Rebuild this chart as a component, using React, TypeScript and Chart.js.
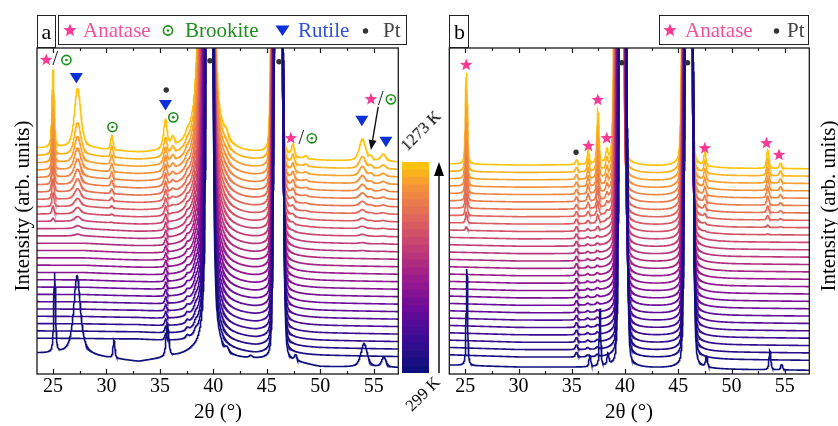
import React, { useEffect, useRef } from "react";
import { Chart, registerables } from "chart.js";

Chart.register(...registerables);

const SERIF = "'Liberation Serif', 'DejaVu Serif', serif";

// ---------------- axis / general data ----------------
const X_MIN = 23.5;
const X_MAX = 57.3;
const X_STEP = 0.025;
const X_TICKS = [25, 30, 35, 40, 45, 50, 55];
const X_MINOR_TICKS = [27.5, 32.5, 37.5, 42.5, 47.5, 52.5];
const X_TITLE = "2θ (°)";
const Y_TITLE = "Intensity (arb. units)";
const TEMP_LOW = "299 K";
const TEMP_HIGH = "1273 K";
const N_CURVES = 28;

// colour map (bottom = 299 K, top = 1273 K)
const CMAP_POS = [0, 0.15, 0.3, 0.45, 0.6, 0.75, 0.9, 1];
const CMAP_COL = ["#0f0f7d", "#3b0c94", "#6d0b9a", "#9c1c8a", "#c43f74", "#e2685a", "#f5953a", "#ffc30f"];

// ---------------- panel a ----------------
const A_Y_RANGE = [-4.86, 40.42];
const A_BG_X = [23.5, 28, 33, 38, 41, 44, 48, 50, 57.3];
const A_BG_LOW = [0.1, 0.05, -0.07, -0.6, -1.6, -2.2, -2.2, -2.3, -2.45];
const A_BG_HIGH = [0.45, 0.45, -0.3, -0.4, -0.6, -0.6, -1.2, -1.3, -1.45];
// [position, height, hwhm, lorentz fraction]
const A_COMMON = [[35.55, 0.9, 0.12, 0.5], [37.55, 0.4, 0.15, 0.5], [38.35, 0.5, 0.15, 0.5]];
// Pt: [pos low T, pos high T, height, hwhm low T, hwhm high T, lorentz fraction]
const A_PT = [[39.65, 39.35, 200, 0.22, 0.4, 0.35], [46.1, 45.9, 200, 0.28, 0.28, 0.07]];
const A_RUTILE = [[27.3, 8.3, 0.35, 0.6], [35.5, 3.3, 0.22, 0.6], [41.2, 0.8, 0.25, 0.5], [53.95, 3.1, 0.35, 0.6], [55.9, 1.0, 0.3, 0.6]];
const A_RUTILE_GROWTH = [0, 0, 0, 0, 0, 0, 0, 0, 0, 0, 0, 0, 0, 0, 0, 0.03, 0.05, 0.08, 0.11, 0.14, 0.18, 0.22, 0.26, 0.31, 0.37, 0.44, 0.55, 1.0];
const A_ANA_BRO = [[25.0, 10.8, 0.12, 0.5], [30.5, 2.0, 0.13, 0.5], [36.2, 1.3, 0.2, 0.5], [47.45, 1.6, 0.15, 0.5], [48.65, 0.4, 0.2, 0.5], [54.75, 0.5, 0.2, 0.5]];
const A_ANA_BRO_GROWTH = [0, 0, 0, 0, 0, 0, 0, 0, 0, 0, 0, 0, 0, 0, 0, 0, 0, 0.04, 0.1, 0.17, 0.25, 0.33, 0.42, 0.5, 0.58, 0.67, 0.78, 1.0];
const A_BOTTOM_BG = [-2.0, -2.3, -3.2, -2.2, -2.8, -3.0, -3.4, -3.9, -4.0];
const A_BOTTOM_PEAKS = [[25.15, 11, 0.1, 0.5], [27.25, 11, 0.38, 0.8], [30.7, 2.5, 0.1, 0.5], [35.7, 4.5, 0.15, 0.5], [41.3, 0.5, 0.2, 0.5], [43.5, 0.3, 0.2, 0.5], [47.7, 0.8, 0.12, 0.5], [54.1, 3.3, 0.35, 0.6], [55.95, 1.4, 0.25, 0.6]];
const A_MARKS: [string, number, number][] = [
  ["star", 24.37, 38.75], ["slash", 25.22, 38.75], ["circ", 26.25, 38.75],
  ["tri", 27.18, 36.25], ["circ", 30.56, 29.44], ["dot", 35.59, 34.58],
  ["tri", 35.52, 32.5], ["circ", 36.25, 30.79], ["dot", 39.68, 38.65], ["dot", 46.14, 38.51],
  ["star", 47.24, 27.88], ["slash", 48.22, 27.88], ["circ", 49.21, 27.88],
  ["tri", 53.89, 30.32], ["star", 54.74, 33.29], ["slash", 55.67, 33.29], ["circ", 56.61, 33.29],
  ["tri", 56.14, 27.4],
];
const A_ARROWS = [[55.42, 32.26, 54.74, 26.25]];

// ---------------- panel b ----------------
const B_Y_RANGE = [-2.3, 41.87];
const B_BG_X = [23.5, 30, 35, 40, 46, 50, 57.3];
const B_BG_LOW = [0.3, 0, -0.05, -0.1, -0.2, -0.35, -0.45];
const B_BG_HIGH = [0.15, 0, 0, -0.1, -0.3, -0.45, -0.5];
const B_COMMON = [[35.45, 0.7, 0.12, 0.5], [36.5, 0.25, 0.15, 0.5], [37.4, 0.3, 0.15, 0.5]];
const B_PT = [[39.8, 39.4, 200, 0.24, 0.25, 0.08], [46.0, 45.8, 200, 0.26, 0.26, 0.07]];
const B_ANATASE = [[25.1, 12.4, 0.1, 0.5], [36.55, 1.7, 0.1, 0.5], [37.45, 6.8, 0.11, 0.5], [38.3, 1.5, 0.12, 0.5], [47.5, 1.8, 0.12, 0.5], [53.4, 2.5, 0.13, 0.5], [54.6, 0.8, 0.13, 0.5]];
const B_ANATASE_GROWTH = [0, 0, 0, 0, 0, 0, 0, 0, 0, 0, 0, 0, 0, 0, 0, 0, 0, 0, 0.04, 0.12, 0.24, 0.36, 0.48, 0.6, 0.7, 0.8, 0.9, 1.0];
const B_BOTTOM_BG = [-1.1, -1.36, -1.4, -1.5, -1.6, -1.7, -1.8];
const B_BOTTOM_PEAKS = [[25.15, 13.1, 0.08, 0.5], [36.7, 1.5, 0.1, 0.5], [37.65, 7.8, 0.08, 0.5], [38.4, 1.5, 0.1, 0.5], [47.65, 1.5, 0.1, 0.5], [53.6, 2.6, 0.1, 0.5], [54.7, 0.8, 0.1, 0.5]];
const B_MARKS: [string, number, number][] = [
  ["star", 25.09, 39.57], ["dot", 35.4, 27.74], ["star", 36.56, 28.59], ["star", 37.44, 34.82],
  ["star", 38.28, 29.63], ["dot", 39.69, 39.88], ["dot", 45.87, 39.88], ["star", 47.49, 28.28],
  ["star", 53.28, 28.96], ["star", 54.46, 27.37],
];

// ---------------- styles ----------------
const C_ANATASE = "#fb3a95";
const C_ANATASE_TXT = "#f4509e";
const C_BROOKITE = "#1d8f1d";
const C_RUTILE = "#0c30d8";
const C_RUTILE_TXT = "#2f50e2";
const C_PT = "#333333";

// ---------------- helpers ----------------
const lerp = (a: number, b: number, t: number) => a + (b - a) * t;
function interp(xs: number[], ys: number[], x: number) {
  if (x <= xs[0]) return ys[0];
  for (let i = 0; i < xs.length - 1; i++) {
    if (x <= xs[i + 1]) return lerp(ys[i], ys[i + 1], (x - xs[i]) / (xs[i + 1] - xs[i]));
  }
  return ys[ys.length - 1];
}
function pv(x: number, p: number, h: number, w: number, eta: number) {
  const d = (x - p) / w;
  const d2 = d * d;
  return h * (eta / (1 + d2) + (1 - eta) * Math.exp(-Math.LN2 * d2));
}
function hexRgb(h: string) {
  return [parseInt(h.slice(1, 3), 16), parseInt(h.slice(3, 5), 16), parseInt(h.slice(5, 7), 16)];
}
function cmap(t: number) {
  for (let i = 0; i < CMAP_POS.length - 1; i++) {
    if (t <= CMAP_POS[i + 1]) {
      const f = (t - CMAP_POS[i]) / (CMAP_POS[i + 1] - CMAP_POS[i]);
      const a = hexRgb(CMAP_COL[i]);
      const b = hexRgb(CMAP_COL[i + 1]);
      return `rgb(${Math.round(lerp(a[0], b[0], f))},${Math.round(lerp(a[1], b[1], f))},${Math.round(lerp(a[2], b[2], f))})`;
    }
  }
  return CMAP_COL[CMAP_COL.length - 1];
}

type Panel = {
  bgX: number[]; bgLow: number[]; bgHigh: number[]; common: number[][]; pt: number[][];
  phases: { peaks: number[][]; growth: number[] }[]; bottomBg: number[]; bottomPeaks: number[][];
};

function curveValue(P: Panel, k: number, x: number) {
  let y = 0;
  if (k === 0) {
    y = interp(P.bgX, P.bottomBg, x);
    for (const p of P.bottomPeaks) y += pv(x, p[0], p[1], p[2], p[3]);
    for (const p of P.pt) y += pv(x, p[0], p[2], p[3], p[5]);
    return y;
  }
  const t = (k - 1) / (N_CURVES - 2);
  y = k - 1 + lerp(interp(P.bgX, P.bgLow, x), interp(P.bgX, P.bgHigh, x), t);
  for (const p of P.common) y += pv(x, p[0], p[1], p[2], p[3]);
  for (const ph of P.phases) {
    const g = ph.growth[k];
    if (g > 0) for (const p of ph.peaks) y += g * pv(x, p[0], p[1], p[2], p[3]);
  }
  for (const p of P.pt) y += pv(x, lerp(p[0], p[1], t), p[2], lerp(p[3], p[4], t), p[5]);
  return y;
}

function buildDatasets(P: Panel) {
  const xs: number[] = [];
  for (let i = 0; X_MIN + i * X_STEP <= X_MAX + 1e-9; i++) xs.push(+(X_MIN + i * X_STEP).toFixed(4));
  const sets: any[] = [];
  for (let k = 0; k < N_CURVES; k++) {
    sets.push({
      data: xs.map((x) => ({ x, y: curveValue(P, k, x) })),
      borderColor: cmap(k / (N_CURVES - 1)),
      borderWidth: 1.6,
      pointRadius: 0,
      fill: false,
      tension: 0,
    });
  }
  return sets;
}

const PANEL_A: Panel = {
  bgX: A_BG_X, bgLow: A_BG_LOW, bgHigh: A_BG_HIGH, common: A_COMMON, pt: A_PT,
  phases: [{ peaks: A_RUTILE, growth: A_RUTILE_GROWTH }, { peaks: A_ANA_BRO, growth: A_ANA_BRO_GROWTH }],
  bottomBg: A_BOTTOM_BG, bottomPeaks: A_BOTTOM_PEAKS,
};
const PANEL_B: Panel = {
  bgX: B_BG_X, bgLow: B_BG_LOW, bgHigh: B_BG_HIGH, common: B_COMMON, pt: B_PT,
  phases: [{ peaks: B_ANATASE, growth: B_ANATASE_GROWTH }],
  bottomBg: B_BOTTOM_BG, bottomPeaks: B_BOTTOM_PEAKS,
};

// ---------------- drawing plugin ----------------
function drawStar(ctx: CanvasRenderingContext2D, cx: number, cy: number, R: number, col: string) {
  ctx.beginPath();
  for (let i = 0; i < 10; i++) {
    const r = i % 2 === 0 ? R : R * 0.42;
    const a = -Math.PI / 2 + (i * Math.PI) / 5;
    const px = cx + r * Math.cos(a);
    const py = cy + r * Math.sin(a);
    if (i === 0) ctx.moveTo(px, py); else ctx.lineTo(px, py);
  }
  ctx.closePath();
  ctx.fillStyle = col;
  ctx.fill();
}

const framePlugin = {
  id: "frameTicks",
  afterDatasetsDraw(chart: any, _args: any, opts: any) {
    const { ctx, chartArea: a, scales } = chart;
    const xs = scales.x;
    const ys = scales.y;
    ctx.save();
    const marks: [string, number, number][] = opts.marks || [];
    for (const m of marks) {
      const px = xs.getPixelForValue(m[1]);
      const py = ys.getPixelForValue(m[2]);
      if (m[0] === "star") drawStar(ctx, px, py, 6.6, C_ANATASE);
      else if (m[0] === "tri") {
        ctx.beginPath();
        ctx.moveTo(px - 6.5, py - 5);
        ctx.lineTo(px + 6.5, py - 5);
        ctx.lineTo(px, py + 5.5);
        ctx.closePath();
        ctx.fillStyle = C_RUTILE;
        ctx.fill();
      } else if (m[0] === "circ") {
        ctx.beginPath();
        ctx.arc(px, py, 4.6, 0, Math.PI * 2);
        ctx.strokeStyle = C_BROOKITE;
        ctx.lineWidth = 1.6;
        ctx.stroke();
        ctx.beginPath();
        ctx.arc(px, py, 1.3, 0, Math.PI * 2);
        ctx.fillStyle = C_BROOKITE;
        ctx.fill();
      } else if (m[0] === "dot") {
        ctx.beginPath();
        ctx.arc(px, py, 2.7, 0, Math.PI * 2);
        ctx.fillStyle = C_PT;
        ctx.fill();
      } else if (m[0] === "slash") {
        ctx.fillStyle = "#111";
        ctx.font = `20px ${SERIF}`;
        ctx.textAlign = "center";
        ctx.textBaseline = "middle";
        ctx.fillText("/", px, py);
      }
    }
    const arrows: number[][] = opts.arrows || [];
    for (const ar of arrows) {
      const x1 = xs.getPixelForValue(ar[0]);
      const y1 = ys.getPixelForValue(ar[1]);
      const x2 = xs.getPixelForValue(ar[2]);
      const y2 = ys.getPixelForValue(ar[3]);
      const ang = Math.atan2(y2 - y1, x2 - x1);
      ctx.strokeStyle = "#111";
      ctx.lineWidth = 1.4;
      ctx.beginPath();
      ctx.moveTo(x1, y1);
      ctx.lineTo(x2 - 8 * Math.cos(ang), y2 - 8 * Math.sin(ang));
      ctx.stroke();
      ctx.beginPath();
      ctx.moveTo(x2, y2);
      ctx.lineTo(x2 - 10 * Math.cos(ang) + 4 * Math.sin(ang), y2 - 10 * Math.sin(ang) - 4 * Math.cos(ang));
      ctx.lineTo(x2 - 10 * Math.cos(ang) - 4 * Math.sin(ang), y2 - 10 * Math.sin(ang) + 4 * Math.cos(ang));
      ctx.closePath();
      ctx.fillStyle = "#111";
      ctx.fill();
    }
    ctx.strokeStyle = "#1a1a1a";
    ctx.lineWidth = 1.3;
    ctx.strokeRect(a.left, a.top, a.right - a.left, a.bottom - a.top);
    const all = X_TICKS.map((v) => [v, 5]).concat(X_MINOR_TICKS.map((v) => [v, 3]));
    ctx.beginPath();
    for (const [v, len] of all) {
      if (v < xs.min || v > xs.max) continue;
      const px = Math.round(xs.getPixelForValue(v)) + 0.5;
      ctx.moveTo(px, a.bottom);
      ctx.lineTo(px, a.bottom - len);
      ctx.moveTo(px, a.top);
      ctx.lineTo(px, a.top + len);
    }
    ctx.lineWidth = 1.2;
    ctx.stroke();
    ctx.restore();
  },
};

function panelConfig(P: Panel, yr: number[], padL: number, padR: number, marks: any[], arrows: number[][]) {
  return {
    type: "line" as const,
    data: { datasets: buildDatasets(P) },
    options: {
      animation: false as const,
      responsive: false,
      maintainAspectRatio: false,
      events: [] as any[],
      parsing: false as const,
      layout: { padding: { left: padL, right: padR, top: 48, bottom: 0 } },
      plugins: {
        legend: { display: false },
        tooltip: { enabled: false },
        frameTicks: { marks, arrows },
      },
      scales: {
        x: {
          type: "linear" as const,
          min: X_MIN,
          max: X_MAX,
          afterFit: (s: any) => { s.height = 52; },
          afterBuildTicks: (s: any) => { s.ticks = X_TICKS.map((v) => ({ value: v })); },
          grid: { display: false, drawTicks: false },
          border: { display: false },
          ticks: {
            padding: 1,
            color: "#000",
            maxRotation: 0,
            autoSkip: false,
            font: { family: SERIF, size: 20 },
            callback: (v: any) => String(v),
          },
        },
        y: { display: false, min: yr[0], max: yr[1] },
      },
    },
    plugins: [framePlugin],
  };
}

function colorbarConfig() {
  const datasets = [] as any[];
  for (let k = 0; k < N_CURVES; k++) {
    datasets.push({ data: [1], backgroundColor: cmap(k / (N_CURVES - 1)), borderWidth: 0, barPercentage: 1, categoryPercentage: 1 });
  }
  return {
    type: "bar" as const,
    data: { labels: [""], datasets },
    options: {
      animation: false as const,
      responsive: false,
      maintainAspectRatio: false,
      events: [] as any[],
      layout: { padding: 0 },
      plugins: { legend: { display: false }, tooltip: { enabled: false } },
      scales: {
        x: { stacked: true, display: false },
        y: { stacked: true, display: false, min: 0, max: N_CURVES },
      },
    },
  };
}

// ---------------- HTML bits ----------------
const abs = (s: React.CSSProperties): React.CSSProperties => ({ position: "absolute", ...s });
const txt = (left: number, top: number, text: string, color: string, size = 21) => (
  <div style={abs({ left, top, fontFamily: SERIF, fontSize: size, lineHeight: `${size}px`, color, whiteSpace: "nowrap" })}>{text}</div>
);

function StarIcon({ cx, cy }: { cx: number; cy: number }) {
  const pts: string[] = [];
  for (let i = 0; i < 10; i++) {
    const r = i % 2 === 0 ? 7 : 2.95;
    const a = -Math.PI / 2 + (i * Math.PI) / 5;
    pts.push(`${(cx + r * Math.cos(a)).toFixed(2)},${(cy + r * Math.sin(a)).toFixed(2)}`);
  }
  return <polygon points={pts.join(" ")} fill={C_ANATASE} />;
}

export default function App() {
  const aRef = useRef<HTMLCanvasElement>(null);
  const bRef = useRef<HTMLCanvasElement>(null);
  const cRef = useRef<HTMLCanvasElement>(null);

  useEffect(() => {
    const charts: Chart[] = [];
    if (aRef.current) charts.push(new Chart(aRef.current, panelConfig(PANEL_A, A_Y_RANGE, 37, 1.7, A_MARKS, A_ARROWS) as any));
    if (bRef.current) charts.push(new Chart(bRef.current, panelConfig(PANEL_B, B_Y_RANGE, 9.3, 28.7, B_MARKS, []) as any));
    if (cRef.current) charts.push(new Chart(cRef.current, colorbarConfig() as any));
    return () => charts.forEach((c) => c.destroy());
  }, []);

  const box = (left: number, top: number, width: number, height: number) => (
    <div style={abs({ left, top, width, height, border: "1.3px solid #222", boxSizing: "border-box" })} />
  );

  return (
    <div style={abs({ left: 0, top: 0, width: 838, height: 426, background: "#fff", overflow: "hidden" })}>
      <canvas ref={aRef} width={400} height={426} style={abs({ left: 0, top: 0 })} />
      <canvas ref={bRef} width={398} height={426} style={abs({ left: 440, top: 0 })} />
      <canvas ref={cRef} width={27} height={211} style={abs({ left: 402, top: 162 })} />

      {/* panel labels */}
      {box(37, 14.7, 18.5, 33.6)}
      {txt(41.5, 20.7, "a", "#000", 22)}
      {box(449.3, 14.7, 19.5, 33.6)}
      {txt(454, 20.7, "b", "#000", 22)}

      {/* legends */}
      {box(58.3, 14.7, 349, 30.6)}
      {box(659.3, 14.7, 150, 30.6)}
      <svg style={abs({ left: 0, top: 0, overflow: "visible" })} width={838} height={60}>
        <StarIcon cx={70} cy={30.5} />
        <circle cx={168} cy={30.5} r={4.6} fill="none" stroke={C_BROOKITE} strokeWidth={1.6} />
        <circle cx={168} cy={30.5} r={1.3} fill={C_BROOKITE} />
        <polygon points="275.5,25.5 289.5,25.5 282.5,36" fill={C_RUTILE} />
        <circle cx={365.5} cy={31} r={2.7} fill={C_PT} />
        <StarIcon cx={670} cy={30.5} />
        <circle cx={776.5} cy={31} r={2.7} fill={C_PT} />
      </svg>
      {txt(83, 19.7, "Anatase", C_ANATASE_TXT)}
      {txt(185, 19.7, "Brookite", C_BROOKITE)}
      {txt(298, 19.7, "Rutile", C_RUTILE_TXT)}
      {txt(383, 19.7, "Pt", "#444")}
      {txt(685, 19.7, "Anatase", C_ANATASE_TXT)}
      {txt(787, 19.7, "Pt", "#444")}

      {/* axis titles */}
      <div style={abs({ left: 218 - 60, top: 401.4, width: 120, textAlign: "center", fontFamily: SERIF, fontSize: 21, lineHeight: "21px", color: "#000" })}>{X_TITLE}</div>
      <div style={abs({ left: 629 - 60, top: 401.4, width: 120, textAlign: "center", fontFamily: SERIF, fontSize: 21, lineHeight: "21px", color: "#000" })}>{X_TITLE}</div>
      <div style={abs({ left: 22 - 130, top: 206 - 12, width: 260, height: 24, textAlign: "center", fontFamily: SERIF, fontSize: 21, lineHeight: "24px", color: "#000", transform: "rotate(-90deg)" })}>{Y_TITLE}</div>
      <div style={abs({ left: 828 - 130, top: 206 - 12, width: 260, height: 24, textAlign: "center", fontFamily: SERIF, fontSize: 21, lineHeight: "24px", color: "#000", transform: "rotate(-90deg)" })}>{Y_TITLE}</div>

      {/* colour bar labels and arrow */}
      <div style={abs({ left: 421 - 40, top: 131 - 10, width: 80, height: 20, textAlign: "center", fontFamily: SERIF, fontSize: 16.5, lineHeight: "20px", color: "#000", transform: "rotate(-45deg)" })}>{TEMP_HIGH}</div>
      <div style={abs({ left: 423 - 40, top: 394 - 10, width: 80, height: 20, textAlign: "center", fontFamily: SERIF, fontSize: 16.5, lineHeight: "20px", color: "#000", transform: "rotate(-45deg)" })}>{TEMP_LOW}</div>
      <svg style={abs({ left: 0, top: 0 })} width={838} height={426} pointerEvents="none">
        <line x1={439} y1={373} x2={439} y2={174} stroke="#000" strokeWidth={1.4} />
        <polygon points="434,176 444,176 439,162" fill="#000" />
      </svg>
    </div>
  );
}
